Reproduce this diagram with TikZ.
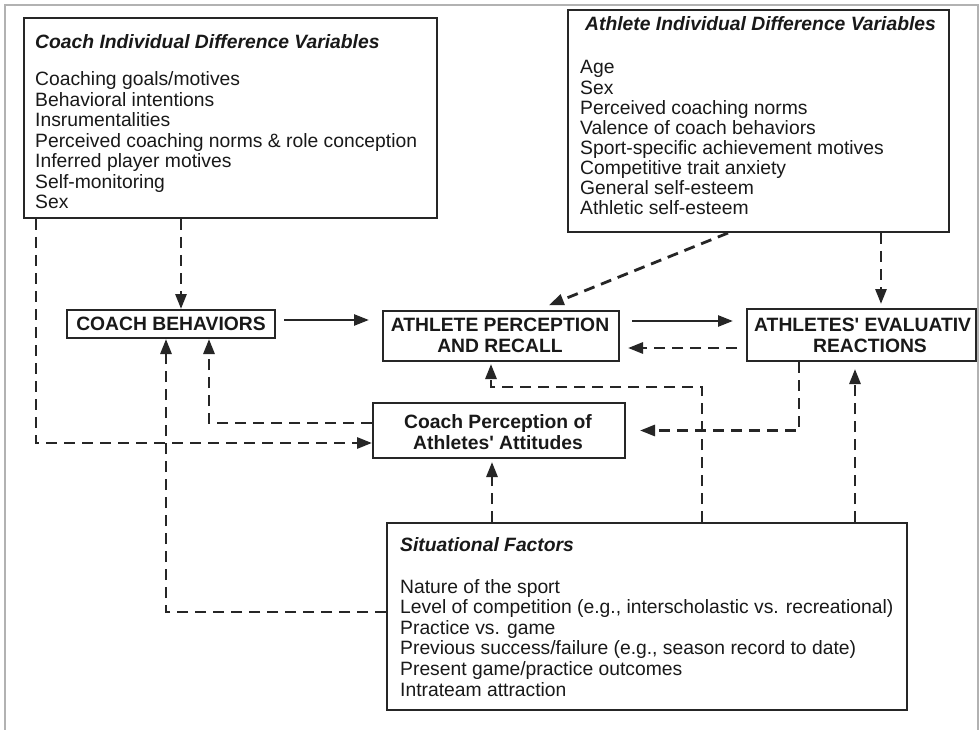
\documentclass[tikz,border=0pt]{standalone}
\usepackage{fontspec}
\setmainfont{Liberation Sans}
\usetikzlibrary{arrows.meta,calc}
\begin{document}
\begin{tikzpicture}[x=1pt,y=-1pt,
  box/.style={draw=black!85, line width=2pt, inner sep=0pt},
  lst/.style={inner sep=0pt, anchor=base west, align=left, text=black!90, font=\fontsize{19.3}{20.5}\selectfont},
  ttl/.style={inner sep=0pt, anchor=base west, text=black!90, font=\fontsize{19.3}{20.5}\selectfont\bfseries\itshape},
  capt/.style={inner sep=0pt, anchor=base, text=black!90, font=\fontsize{19.3}{20.5}\selectfont\bfseries},
  dsh/.style={draw=black!85, line width=2.8pt, dash pattern=on 11pt off 7pt, -{Triangle[length=15pt,width=11pt]}},
  sol/.style={draw=black!85, line width=2.6pt, -{Triangle[length=15pt,width=11pt]}},
]
\useasboundingbox (0,0) rectangle (980,730);
\fill[white] (0,0) rectangle (980,730);
\draw[gray!60, line width=2pt] (5,730) -- (5,5) -- (978,5) -- (978,730);

% boxes
\node[box, minimum width=413pt, minimum height=200pt] (cidv) at (230.5,118) {};
\node[box, minimum width=381pt, minimum height=222pt] (aidv) at (758.5,121) {};
\node[box, minimum width=208pt, minimum height=28pt] (cb) at (171,324) {};
\node[box, minimum width=236pt, minimum height=50pt] (apr) at (501,336) {};
\node[box, minimum width=229pt, minimum height=52pt] (aer) at (861.5,335) {};
\node[box, minimum width=252pt, minimum height=55pt] (cp) at (499,430.5) {};
\node[box, minimum width=520pt, minimum height=187pt] (sf) at (647,616.5) {};

% texts
\node[ttl] (cidvt) at (35,49) {Coach Individual Difference Variables};
\node[lst] (cidv1) at (35,86) {Coaching goals/motives};
\node[lst] (cidv2) at (35,106.5) {Behavioral intentions};
\node[lst] (cidv3) at (35,127) {Insrumentalities};
\node[lst] (cidv4) at (35,147.5) {Perceived coaching norms \& role conception};
\node[lst] (cidv5) at (35,168) {Inferred player motives};
\node[lst] (cidv6) at (35,188.5) {Self-monitoring};
\node[lst] (cidv7) at (35,209) {Sex};

\node[ttl] (aidvt) at (585,31) {Athlete Individual Difference Variables};
\node[lst] (aidv1) at (580,74) {Age};
\node[lst] (aidv2) at (580,94.1) {Sex};
\node[lst] (aidv3) at (580,114.2) {Perceived coaching norms};
\node[lst] (aidv4) at (580,134.3) {Valence of coach behaviors};
\node[lst] (aidv5) at (580,154.4) {Sport-specific achievement motives};
\node[lst] (aidv6) at (580,174.5) {Competitive trait anxiety};
\node[lst] (aidv7) at (580,194.6) {General self-esteem};
\node[lst] (aidv8) at (580,214.7) {Athletic self-esteem};

\node[capt] (cbt) at (171,330.5) {COACH BEHAVIORS};
\node[capt] (aprt1) at (500,331.5) {ATHLETE PERCEPTION};
\node[capt] (aprt2) at (500,352) {AND RECALL};
\node[capt, anchor=base west] (aert1) at (754,331.5) {ATHLETES\textquotesingle{} EVALUATIV};
\node[capt] (aert2) at (870,352) {REACTIONS};
\node[capt] (cpt1) at (498,428) {Coach Perception of};
\node[capt] (cpt2) at (498,449) {Athletes\textquotesingle{} Attitudes};

\node[ttl] (sft) at (400,551) {Situational Factors};
\node[lst] (sf1) at (400,593) {Nature of the sport};
\node[lst] (sf2) at (400,613.6) {Level of competition (e.g., interscholastic vs. recreational)};
\node[lst] (sf3) at (400,634.2) {Practice vs. game};
\node[lst] (sf4) at (400,654.8) {Previous success/failure (e.g., season record to date)};
\node[lst] (sf5) at (400,675.4) {Present game/practice outcomes};
\node[lst] (sf6) at (400,696) {Intrateam attraction};

% connectors
\draw[dsh] ([xshift=10pt]cb.north |- cidv.south) -- ([xshift=10pt]cb.north);
\draw[dsh] ([xshift=13pt]cidv.south west) |- ([yshift=-12.5pt]cp.west);
\draw[dsh] ([yshift=7.5pt]cp.west) -| ([xshift=38pt]cb.south);
\draw[dsh] ([yshift=4.5pt]sf.west) -| ([xshift=-5pt]cb.south);
\draw[sol, shorten <=8pt, shorten >=13pt] ([yshift=4pt]cb.east) -- ([yshift=4pt]cb.east -| apr.west);
\draw[sol, shorten <=12pt, shorten >=13pt] ([yshift=15pt]apr.east) -- ([yshift=15pt]apr.east -| aer.west);
\draw[dsh, shorten <=9pt, shorten >=8pt] ([yshift=-12pt]apr.east -| aer.west) -- ([yshift=-12pt]apr.east);
\draw[dsh, shorten >=2pt] ([xshift=-30.5pt]aidv.south) -- ([xshift=46pt,yshift=4pt]apr.north);
\draw[dsh, shorten >=4pt] ([xshift=122.5pt]aidv.south) -- ([xshift=122.5pt]aidv.south |- aer.north);
\draw[dsh, shorten >=14pt] ([xshift=-62.5pt]aer.south) |- (cp.east);
\draw[dsh, shorten >=2pt] ([xshift=55pt]sf.north) -- ++(0,-135) -| ([xshift=-10pt]apr.south);
\draw[dsh, shorten >=3pt] ([xshift=-155pt]sf.north) -- ([xshift=-155pt]sf.north |- cp.south);
\draw[dsh, shorten >=7pt] ([xshift=208pt]sf.north) -- ([xshift=208pt]sf.north |- aer.south);
\end{tikzpicture}
\end{document}
